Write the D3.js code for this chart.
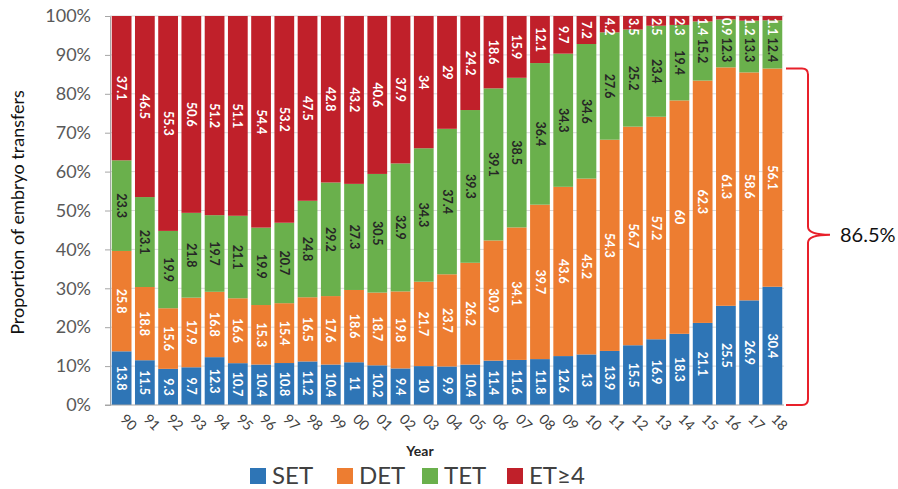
<!DOCTYPE html>
<html><head><meta charset="utf-8">
<script src="https://cdn.jsdelivr.net/npm/d3@7"></script>
<style>
body{margin:0;background:#fff;}
text{font-family:Lato,"Open Sans",sans-serif;}
</style></head>
<body><svg id="c" width="898" height="489"></svg>
<script>
const years = ["90","91","92","93","94","95","96","97","98","99","00","01","02","03","04","05","06","07","08","09","10","11","12","13","14","15","16","17","18"];
const seriesNames = ["SET","DET","TET","ET≥4"];
const SET = [13.8,11.5,9.3,9.7,12.3,10.7,10.4,10.8,11.2,10.4,11,10.2,9.4,10,9.9,10.4,11.4,11.6,11.8,12.6,13,13.9,15.5,16.9,18.3,21.1,25.5,26.9,30.4];
const DET = [25.8,18.8,15.6,17.9,16.8,16.6,15.3,15.4,16.5,17.6,18.6,18.7,19.8,21.7,23.7,26.2,30.9,34.1,39.7,43.6,45.2,54.3,56.7,57.2,60,62.3,61.3,58.6,56.1];
const TET = [23.3,23.1,19.9,21.8,19.7,21.1,19.9,20.7,24.8,29.2,27.3,30.5,32.9,34.3,37.4,39.3,39.1,38.5,36.4,34.3,34.6,27.6,25.2,23.4,19.4,15.2,12.3,13.3,12.4];
const ET4 = [37.1,46.5,55.3,50.6,51.2,51.1,54.4,53.2,47.5,42.8,43.2,40.6,37.9,34,29,24.2,18.6,15.9,12.1,9.7,7.2,4.2,3.5,2.5,2.3,1.4,0.9,1.2,1.1];
const yTicks = [0,10,20,30,40,50,60,70,80,90,100];
const bracketValue = "86.5%";
const bracketTop = 86.5;

(function(){
const colors = ["#2E75B6","#ED7D31","#6AB04C","#C0202A"];
const labelColors = ["#fff","#fff","#262626","#fff"];

const rows = years.map((y,i)=>({year:y, SET:SET[i], DET:DET[i], TET:TET[i], "ET≥4":ET4[i]}));
// 100% stacked: each bar normalized to its total
const stack = d3.stack().keys(seriesNames).offset(d3.stackOffsetExpand)(rows);

const svg = d3.select("#c");
const pL=110, pR=784, pT=16, pB=405;
const x = d3.scaleBand().domain(years).range([pL,pR]).paddingInner(0.15).paddingOuter(0.075);
const y = d3.scaleLinear().domain([0,100]).range([pB,pT]);
const yf = v => y(v*100);

// gridlines
svg.append("g").selectAll("line").data(yTicks.filter(t=>t>0)).join("line")
  .attr("x1",pL).attr("x2",pR).attr("y1",d=>y(d)).attr("y2",d=>y(d))
  .attr("stroke","#D9D9D9").attr("stroke-width",1);

// y axis
const yAxis = d3.axisLeft(y).tickValues(yTicks).tickFormat(d=>d+"%").tickSize(5).tickPadding(14);
const ya = svg.append("g").attr("transform",`translate(${pL},0)`).call(yAxis);
ya.select(".domain").attr("stroke","#A6A6A6");
ya.selectAll(".tick line").attr("stroke","#A6A6A6");
ya.selectAll("text").attr("font-size",18).attr("fill","#595959");

// bars
const groups = svg.append("g").selectAll("g").data(stack).join("g").attr("fill",(d,i)=>colors[i]);
groups.selectAll("rect").data(d=>d).join("rect")
  .attr("x",d=>x(d.data.year)).attr("width",x.bandwidth())
  .attr("y",d=>yf(d[1])).attr("height",d=>Math.max(0,yf(d[0])-yf(d[1])));

// x axis
const xAxis = d3.axisBottom(x).tickSize(0).tickPadding(0);
const xa = svg.append("g").attr("transform",`translate(0,${pB})`).call(xAxis);
xa.select(".domain").attr("stroke","#A6A6A6").attr("d",`M${pL-5},0H${pR}`);
xa.selectAll("text").attr("font-size",14).attr("fill","#404040")
  .attr("text-anchor","start").attr("dy",null).attr("y",null)
  .attr("transform","translate(-2,15) rotate(45)");

// data labels (placed top-down per bar, avoiding overlap and the plot top)
const lg = svg.append("g");
years.forEach((yr,i)=>{
  let prevBottom = pT + 2;
  for (let si = seriesNames.length-1; si >= 0; si--) {
    const d = stack[si][i];
    const v = d.data[seriesNames[si]];
    const cx = x(yr)+x.bandwidth()/2;
    let cy = (yf(d[0])+yf(d[1]))/2;
    const t = lg.append("text").text(v)
      .attr("font-size",12.5).attr("font-weight","bold").attr("fill",labelColors[si])
      .attr("text-anchor","middle").attr("dy","0.35em");
    const len = t.node().getComputedTextLength();
    if (cy - len/2 < prevBottom) cy = prevBottom + len/2;
    prevBottom = cy + len/2 + 2;
    t.attr("transform",`translate(${cx},${cy}) rotate(90)`);
  }
});

// axis titles
svg.append("text").attr("transform",`translate(24,${(pT+pB)/2+2}) rotate(-90)`)
  .attr("text-anchor","middle").attr("font-size",18).attr("fill","#111").text("Proportion of embryo transfers");
svg.append("text").attr("x",420).attr("y",456).attr("text-anchor","middle")
  .attr("font-size",14).attr("font-weight","bold").attr("fill","#262626").text("Year");

// legend
const legX = [250,337,422,507];
const leg = svg.append("g");
seriesNames.forEach((n,i)=>{
  leg.append("rect").attr("x",legX[i]).attr("y",468).attr("width",16).attr("height",16).attr("fill",colors[i]);
  leg.append("text").attr("x",legX[i]+22).attr("y",484).attr("font-size",24).attr("fill","#404040").text(n);
});

// bracket
const bx=808, yT=y(bracketTop), yB=pB, yM=(yT+yB)/2-2;
const path = `M786,${yT} H${bx-6} Q${bx},${yT} ${bx},${yT+6} V${yM-8} Q${bx},${yM} ${bx+22},${yM} Q${bx},${yM} ${bx},${yM+8} V${yB-6} Q${bx},${yB} ${bx-6},${yB} H786`;
svg.append("path").attr("d",path).attr("fill","none").attr("stroke","#E8202A").attr("stroke-width",2);
svg.append("text").attr("x",840).attr("y",yM).attr("dy","0.35em").attr("font-size",20).attr("fill","#111").text(bracketValue);
})();
</script></body></html>
